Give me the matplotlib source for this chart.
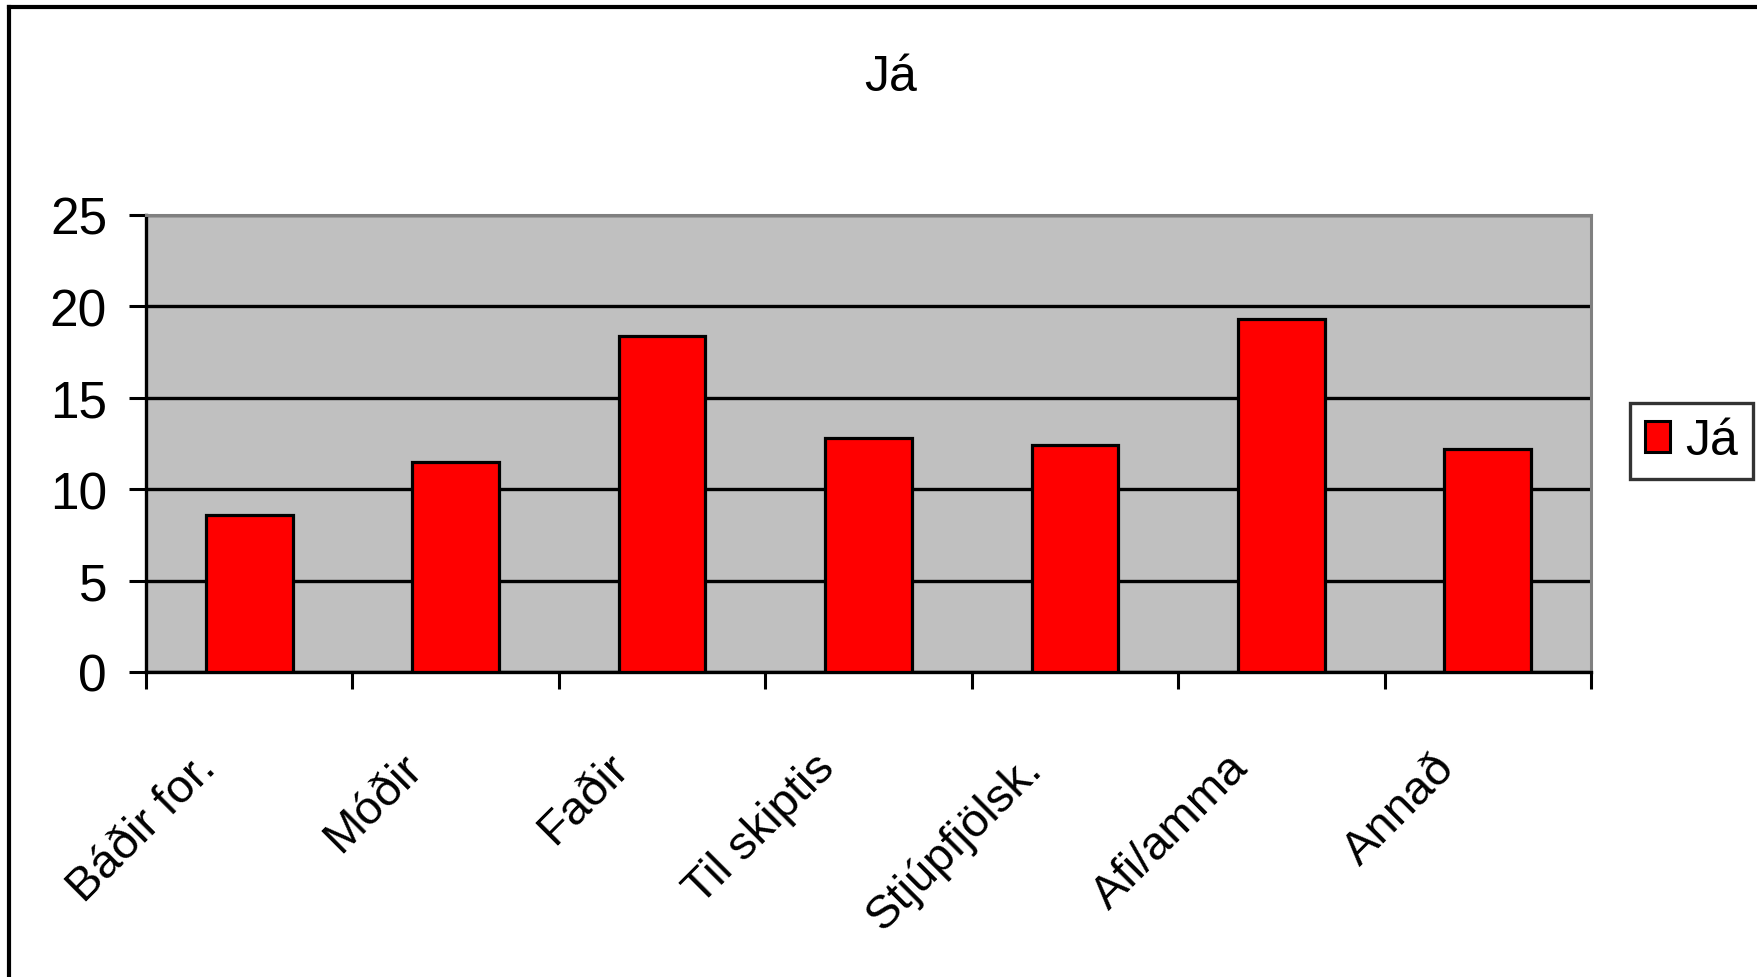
import matplotlib.pyplot as plt
import numpy as np
from matplotlib.lines import Line2D
from matplotlib.patches import Patch
import matplotlib.transforms as mtransforms

# Data
categories = ["Báðir for.", "Móðir", "Faðir", "Til skiptis", "Stjúpfjölsk.", "Afi/amma", "Annað"]
values = [8.6, 11.5, 18.4, 12.8, 12.4, 19.3, 12.2]
series_name = "Já"
y_ticks = [0, 5, 10, 15, 20, 25]

plt.rcParams['font.family'] = ['Liberation Sans', 'DejaVu Sans']

W, H = 1758, 978
fig = plt.figure(figsize=(W / 100, H / 100), dpi=100)
fig.patch.set_facecolor('white')

ax = fig.add_axes([146 / W, 1 - 673 / H, (1591 - 146) / W, (673 - 216) / H])
ax.set_facecolor('#C0C0C0')

x = np.arange(len(categories))
ax.bar(x, values, width=0.42, color='#FF0000', edgecolor='black', linewidth=2.3, zorder=3)

ax.set_xlim(-0.5, len(categories) - 0.5)
ax.set_ylim(0, 25)
ax.set_yticks(y_ticks)
ax.set_yticklabels([str(t) for t in y_ticks], fontsize=37)
ax.yaxis.grid(True, color='black', linewidth=2.4, zorder=1)
ax.set_axisbelow(True)

# category boundaries as x ticks, labels drawn separately
ax.set_xticks(np.arange(len(categories) + 1) - 0.5)
ax.set_xticklabels([])
ax.tick_params(axis='both', direction='out', length=12, width=2.2, color='black')
ax.tick_params(axis='y', pad=16)

for side in ['left', 'bottom']:
    ax.spines[side].set_color('black')
    ax.spines[side].set_linewidth(2.4)
for side in ['top', 'right']:
    ax.spines[side].set_color('#808080')
    ax.spines[side].set_linewidth(2.2)

trans = mtransforms.blended_transform_factory(ax.transData, ax.transAxes)
for i, lab in enumerate(categories):
    ax.text(i - 0.27, -0.16, lab, transform=trans, rotation=45,
            ha='right', va='top', rotation_mode='anchor', fontsize=34)

fig.text(891 / W, 1 - 78 / H, series_name, ha='center', va='center', fontsize=36)

handles = [Patch(facecolor='#FF0000', edgecolor='black', linewidth=2.2)]
leg = fig.legend(handles, [series_name], loc='center left',
                 bbox_to_anchor=(1630 / W, 1 - 442 / H), fontsize=36,
                 frameon=True, fancybox=False, shadow=False,
                 handlelength=0.5, handleheight=0.6, handletextpad=0.3,
                 borderpad=0.3, borderaxespad=0)
leg.get_frame().set_edgecolor('black')
leg.get_frame().set_linewidth(2.4)

# outer chart border (left and top visible)
fig.add_artist(Line2D([9 / W, 9 / W], [0, 1 - 8 / H], transform=fig.transFigure,
                      color='black', linewidth=3))
fig.add_artist(Line2D([9 / W, 1], [1 - 8 / H, 1 - 8 / H], transform=fig.transFigure,
                      color='black', linewidth=3))

plt.savefig('out.png', dpi=100)
